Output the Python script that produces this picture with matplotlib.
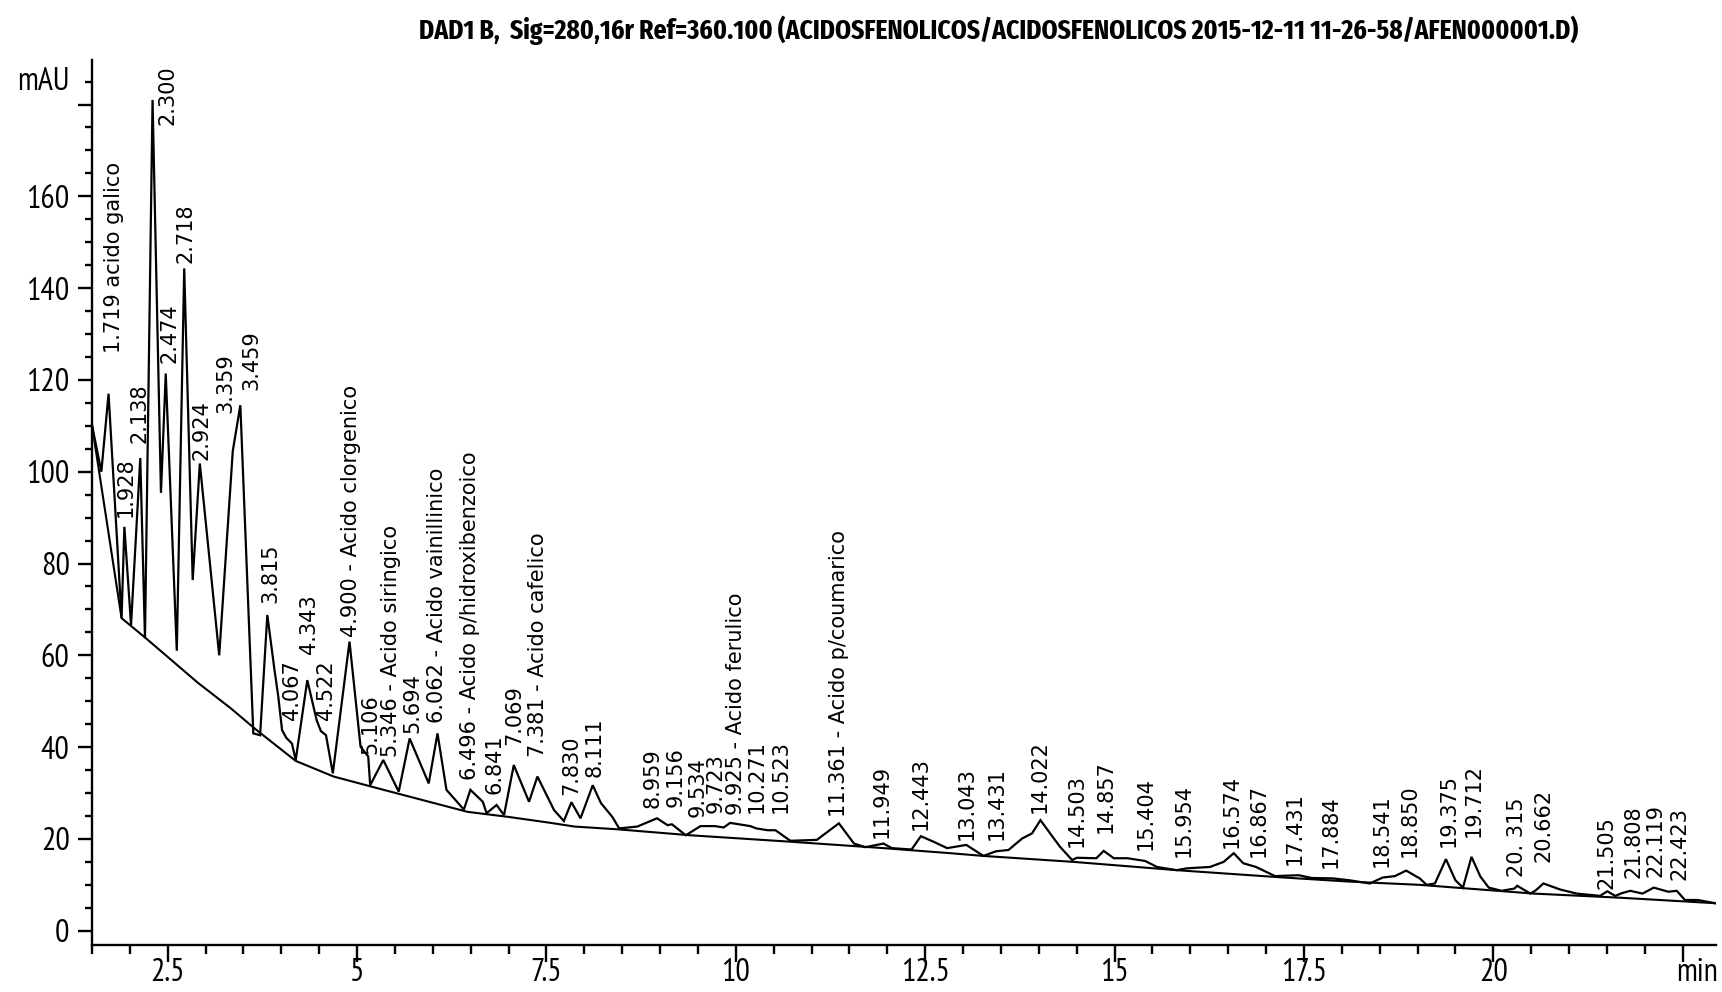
import matplotlib
matplotlib.use("Agg")
import matplotlib.pyplot as plt
from matplotlib.ticker import MultipleLocator, FixedLocator

# signal trace (min, mAU)
trace_t = [1.50, 1.624, 1.719, 1.891, 1.928, 2.016, 2.138, 2.20, 2.300, 2.411,
           2.474, 2.62, 2.718, 2.83, 2.924, 3.18, 3.359, 3.459, 3.63, 3.72,
           3.815, 3.91, 3.96, 4.01, 4.067, 4.14, 4.19, 4.343, 4.466, 4.522,
           4.59, 4.68, 4.900, 5.046, 5.106, 5.147, 5.173, 5.346, 5.55, 5.694,
           5.946, 6.062, 6.18, 6.41, 6.496, 6.66, 6.71, 6.841, 6.94, 7.069,
           7.27, 7.381, 7.60, 7.73, 7.830, 7.95, 8.111, 8.22, 8.37, 8.46,
           8.70, 8.959, 9.10, 9.156, 9.34, 9.534, 9.723, 9.84, 9.925, 10.19,
           10.271, 10.42, 10.523, 10.72, 11.07, 11.361, 11.56, 11.71, 11.949, 12.06,
           12.32, 12.443, 12.61, 12.79, 13.043, 13.27, 13.431, 13.60, 13.78, 13.91,
           14.022, 14.15, 14.28, 14.44, 14.503, 14.76, 14.857, 14.99, 15.17, 15.404,
           15.56, 15.82, 15.954, 16.26, 16.44, 16.574, 16.70, 16.867, 17.12, 17.431,
           17.60, 17.884, 18.10, 18.37, 18.541, 18.70, 18.850, 19.03, 19.12, 19.23,
           19.375, 19.50, 19.60, 19.712, 19.83, 19.94, 20.11, 20.28, 20.315, 20.49,
           20.56, 20.662, 20.88, 21.10, 21.41, 21.505, 21.61, 21.70, 21.808, 21.97,
           22.119, 22.31, 22.423, 22.53, 22.70, 22.93]
trace_y = [110.2, 100.0, 117.0, 68.1, 88.0, 66.6, 103.0, 63.7, 181.0, 95.4,
           121.4, 61.0, 144.3, 76.4, 101.8, 60.0, 104.5, 114.5, 43.0, 42.6,
           68.8, 56.8, 51.0, 43.7, 42.0, 40.8, 37.2, 54.6, 45.9, 43.5,
           42.6, 34.3, 63.0, 40.1, 38.8, 38.0, 31.7, 37.2, 30.3, 41.9,
           32.1, 43.0, 30.7, 26.4, 30.7, 28.1, 25.6, 27.4, 25.2, 36.1,
           28.1, 33.6, 26.3, 23.9, 28.0, 24.5, 31.7, 27.8, 24.8, 22.3,
           22.7, 24.5, 23.0, 23.2, 20.8, 22.8, 22.8, 22.5, 23.5, 22.8,
           22.3, 21.9, 21.9, 19.6, 19.8, 23.4, 19.0, 18.2, 19.0, 18.0,
           17.7, 20.6, 19.4, 18.0, 18.7, 16.3, 17.3, 17.6, 20.1, 21.2,
           24.1, 21.2, 18.3, 15.4, 15.9, 15.8, 17.4, 15.8, 15.8, 15.2,
           13.9, 13.2, 13.6, 13.9, 15.0, 16.9, 14.7, 13.9, 11.9, 12.1,
           11.5, 11.4, 11.0, 10.3, 11.6, 11.9, 13.1, 11.4, 10.0, 10.3,
           15.6, 11.0, 9.4, 16.1, 11.8, 9.4, 8.7, 9.2, 9.8, 8.1,
           8.8, 10.3, 9.0, 8.1, 7.6, 8.6, 7.6, 8.2, 8.7, 8.1,
           9.4, 8.5, 8.7, 6.7, 6.7, 6.0]

# integration baseline
base_t = [1.50, 1.891, 2.20, 2.90, 3.33, 3.66, 4.19, 4.69, 5.35, 5.95,
          6.46, 7.00, 7.556, 7.87, 8.44, 9.40, 10.72, 11.95, 12.83, 13.27,
          14.46, 15.82, 17.23, 18.11, 19.03, 20.53, 21.67, 22.93]
base_y = [110.2, 68.1, 63.9, 54.0, 48.5, 43.9, 37.0, 33.6, 30.7, 28.1,
          25.9, 24.8, 23.5, 22.7, 22.1, 20.8, 19.4, 18.0, 16.9, 16.3,
          15.0, 13.2, 11.6, 10.7, 10.0, 8.1, 7.2, 6.0]

# peak annotations
peak_labels = ["1.719 acido galico", "1.928", "2.138", "2.300", "2.474", "2.718",
               "2.924", "3.359", "3.459", "3.815", "4.067", "4.343", "4.522",
               "4.900 - Acido clorgenico", "5.106", "5.346 - Acido siringico", "5.694",
               "6.062 - Acido vainillinico", "6.496 - Acido p/hidroxibenzoico", "6.841",
               "7.069", "7.381 - Acido cafelico", "7.830", "8.111", "8.959", "9.156",
               "9.534", "9.723", "9.925 - Acido ferulico", "10.271", "10.523",
               "11.361 - Acido p/coumarico", "11.949", "12.443", "13.043", "13.431",
               "14.022", "14.503", "14.857", "15.404", "15.954", "16.574", "16.867",
               "17.431", "17.884", "18.541", "18.850", "19.375", "19.712", "20. 315",
               "20.662", "21.505", "21.808", "22.119", "22.423"]
# text anchors: (min, mAU) of the lower end of each rotated label
label_pos = [(1.785, 125.8), (1.95, 90.2), (2.125, 106.2), (2.50, 175.5), (2.52, 123.7),
             (2.74, 145.4), (2.94, 102.5), (3.256, 112.8), (3.61, 117.8), (3.86, 71.3),
             (4.14, 45.9), (4.37, 60.4), (4.59, 45.9), (4.92, 64.0), (5.17, 38.6),
             (5.45, 37.9), (5.73, 43.0), (6.06, 45.2), (6.49, 32.8), (6.81, 29.9),
             (7.07, 40.5), (7.39, 37.9), (7.83, 29.6), (8.13, 33.6), (8.90, 26.7),
             (9.21, 27.0), (9.49, 24.8), (9.73, 25.6), (10.0, 25.2), (10.28, 25.6),
             (10.59, 25.6), (11.36, 24.8), (11.93, 20.1), (12.44, 21.9), (13.05, 19.8),
             (13.45, 19.8), (14.01, 25.6), (14.50, 18.3), (14.88, 21.2), (15.41, 17.6),
             (15.91, 16.1), (16.55, 18.0), (16.90, 16.1), (17.38, 14.3), (17.85, 13.6),
             (18.53, 13.9), (18.90, 16.1), (19.41, 18.3), (19.74, 20.5), (20.31, 11.8),
             (20.66, 15.0), (21.50, 9.2), (21.85, 11.4), (22.14, 11.8), (22.46, 11.0)]

x_major = [2.5, 5, 7.5, 10, 12.5, 15, 17.5, 20, 22.5]
x_major_labels = ["2.5", "5", "7.5", "10", "12.5", "15", "17.5", "20", ""]
y_major = [0, 20, 40, 60, 80, 100, 120, 140, 160, 180]
y_major_labels = ["0", "20", "40", "60", "80", "100", "120", "140", "160", ""]

title = ("DAD1 B,  Sig=280,16r Ref=360.100 (ACIDOSFENOLICOS/ACIDOSFENOLICOS "
         "2015-12-11 11-26-58/AFEN000001.D)")

axis_font = "PT Sans Narrow"
title_font = "Fira Sans Extra Condensed"
label_font = "DejaVu Sans"
tick_size = 23
x_len, x_pad = 12, -2.8

fig = plt.figure(figsize=(17.22, 9.92), dpi=100)
ax = fig.add_axes([0.0534, 0.0474, 0.9431, 0.8921])

ax.plot(base_t, base_y, color="black", lw=1.5, solid_joinstyle="miter")
ax.plot(trace_t, trace_y, color="black", lw=1.6, solid_joinstyle="miter")

for txt, (lx, ly) in zip(peak_labels, label_pos):
    ax.text(lx, ly, txt, rotation=90, ha="center", va="bottom",
            fontsize=15, family=label_font, color="black")

ax.set_xlim(1.5, 22.94)
ax.set_ylim(-3.1, 189.7)

for side in ["top", "right"]:
    ax.spines[side].set_visible(False)
for side in ["left", "bottom"]:
    ax.spines[side].set_linewidth(1.7)

ax.xaxis.set_major_locator(FixedLocator(x_major))
ax.set_xticklabels(x_major_labels)
ax.xaxis.set_minor_locator(MultipleLocator(0.5))
ax.yaxis.set_major_locator(FixedLocator(y_major))
ax.set_yticklabels(y_major_labels)
ax.yaxis.set_minor_locator(MultipleLocator(5))

ax.tick_params(axis="x", which="major", length=x_len, width=1.7, pad=x_pad)
ax.tick_params(axis="x", which="minor", length=6.5, width=1.7)
ax.tick_params(axis="y", which="major", length=10, width=1.7, pad=6)
ax.tick_params(axis="y", which="minor", length=5, width=1.7)
for lab in ax.get_xticklabels() + ax.get_yticklabels():
    lab.set_family(axis_font)
    lab.set_fontsize(tick_size)

# unit captions sit where the last tick labels would be
ax.annotate("mAU", xy=(0, 185), xycoords=("axes fraction", "data"),
            xytext=(-16, 0), textcoords="offset points", ha="right", va="center",
            fontsize=tick_size, family=axis_font)
ax.annotate("min", xy=(22.69, 0), xycoords=("data", "axes fraction"),
            xytext=(0, -(x_len + x_pad)), textcoords="offset points",
            ha="center", va="top", fontsize=tick_size, family=axis_font)

fig.text(0.5796, 0.969, title, ha="center", va="center", fontsize=20,
         family=title_font, weight="bold")

fig.savefig("out.png", dpi=100)
